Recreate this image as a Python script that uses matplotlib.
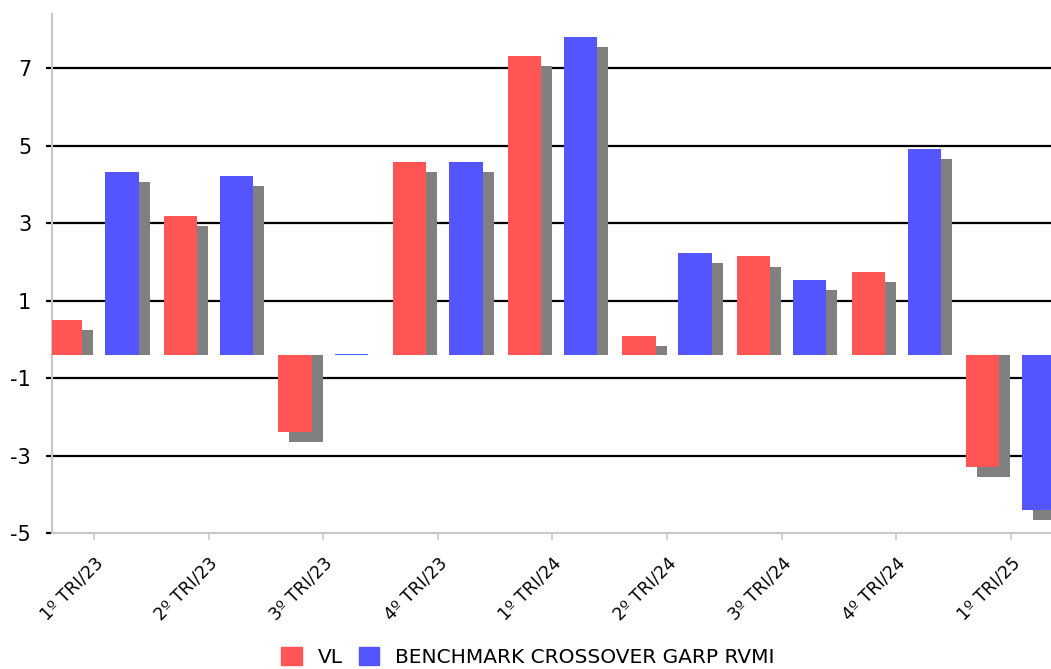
# rentabilidad trimestral del VL frente al benchmark

import numpy as np
import matplotlib
matplotlib.use("Agg")
import matplotlib.pyplot as plt
import matplotlib.transforms as mtransforms
from matplotlib.patches import Patch

# datos
trimestres = ["1º TRI/23", "2º TRI/23", "3º TRI/23", "4º TRI/23", "1º TRI/24",
              "2º TRI/24", "3º TRI/24", "4º TRI/24", "1º TRI/25"]
vl = [0.90, 3.58, -1.98, 4.98, 7.71, 0.48, 2.54, 2.14, -2.90]
benchmark = [4.73, 4.62, 0.03, 4.98, 8.21, 2.63, 1.93, 5.32, -4.00]
nombres = ["VL", "BENCHMARK CROSSOVER GARP RVMI"]

rojo = "#ff5555"
azul = "#5555ff"
gris_sombra = "#808080"
gris_eje = "#c8c8c8"

fig = plt.figure(figsize=(10.51, 6.69), dpi=100)
ax = fig.add_axes([52 / 1051, 1 - 533 / 669, 1 - 52 / 1051, (533 - 14) / 669])

x = np.arange(len(trimestres))
ancho = 0.29
sep = 0.245
dx, dy = 0.096, 0.26  # desplazamiento de la sombra


def sombras(valores):
    v = np.array(valores)
    return np.where(v > 0, np.maximum(v - dy, 0), v - dy)


# primero la sombra y luego las barras encima
ax.bar(x - sep + dx, sombras(vl), ancho, color=gris_sombra, zorder=2)
ax.bar(x + sep + dx, sombras(benchmark), ancho, color=gris_sombra, zorder=2)
ax.bar(x - sep, vl, ancho, color=rojo, zorder=3)
ax.bar(x + sep, benchmark, ancho, color=azul, zorder=3)

# eje y: las marcas van de 2 en 2 desde el minimo
ymin = -4.6
marcas = np.arange(ymin, 8.0, 2)
ax.set_ylim(ymin, 8.8)
ax.set_yticks(marcas)
ax.set_yticklabels([f"{t:.0f}" for t in marcas], fontsize=15)
for t in marcas[1:]:
    ax.axhline(t, color="black", lw=1.6, zorder=1)

ax.set_xlim(-0.366, 8.35)
ax.set_xticks(x)
ax.set_xticklabels(trimestres, rotation=45, ha="right", rotation_mode="anchor",
                   fontsize=12.5)
# corro un poco las etiquetas a la derecha
corrimiento = mtransforms.ScaledTranslation(7 / 100, 0, fig.dpi_scale_trans)
for etiqueta in ax.get_xticklabels():
    etiqueta.set_transform(etiqueta.get_transform() + corrimiento)

ax.tick_params(axis="y", length=4, width=1.6, color="black", pad=11)
ax.tick_params(axis="x", length=5, width=1.2, color=gris_eje, pad=10)
for lado in ["top", "right"]:
    ax.spines[lado].set_visible(False)
for lado in ["left", "bottom"]:
    ax.spines[lado].set_color(gris_eje)
    ax.spines[lado].set_linewidth(1.5)

# leyenda abajo
cuadros = [Patch(color=rojo), Patch(color=azul)]
fig.legend(cuadros, nombres, loc="center", bbox_to_anchor=(528 / 1051, 1 - 657 / 669),
           ncol=2, frameon=False, fontsize=14.5, handlelength=1.0, handleheight=1.0,
           handletextpad=0.8, columnspacing=0.8)

fig.savefig("out.png", dpi=100)
